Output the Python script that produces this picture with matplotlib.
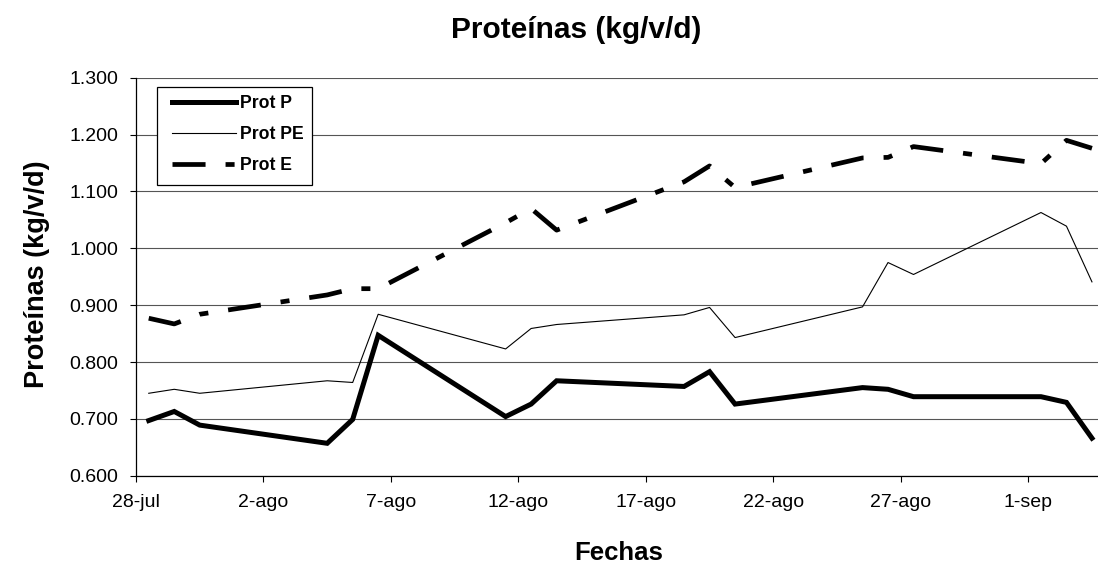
import numpy as np
import pandas as pd
import matplotlib
matplotlib.use("Agg")
import matplotlib.pyplot as plt
from matplotlib.patches import Rectangle

plt.rcParams['font.family'] = ['Liberation Sans', 'DejaVu Sans']
plt.rcParams['lines.scale_dashes'] = False

# fechas de muestreo y proteína (kg/vaca/día) por tratamiento
fechas = ["2005-07-28", "2005-07-29", "2005-07-30", "2005-08-04", "2005-08-05",
          "2005-08-06", "2005-08-11", "2005-08-12", "2005-08-13", "2005-08-18",
          "2005-08-19", "2005-08-20", "2005-08-25", "2005-08-26", "2005-08-27",
          "2005-09-01", "2005-09-02", "2005-09-03"]
prot_p = [0.697, 0.713, 0.689, 0.657, 0.699, 0.847, 0.704, 0.726, 0.767,
          0.757, 0.783, 0.726, 0.755, 0.752, 0.739, 0.739, 0.729, 0.666]
prot_pe = [0.745, 0.752, 0.745, 0.767, 0.764, 0.884, 0.823, 0.859, 0.866,
           0.883, 0.896, 0.843, 0.897, 0.975, 0.954, 1.063, 1.039, 0.941]
prot_e = [0.877, 0.867, 0.884, 0.918, 0.929, 0.929, 1.045, 1.070, 1.032,
          1.117, 1.145, 1.107, 1.159, 1.160, 1.179, 1.149, 1.190, 1.176]
series = ["Prot P", "Prot PE", "Prot E"]
tick_labels = ["28-jul", "2-ago", "7-ago", "12-ago", "17-ago", "22-ago", "27-ago", "1-sep"]

inicio = pd.Timestamp(fechas[0])
dias = (pd.to_datetime(fechas) - inicio).days.values + 0.5  # centro del día

W, H = 1098, 566
fig = plt.figure(figsize=(W / 100, H / 100), dpi=100)
x0, x1, y0, y1 = 136, 1104.7, 77.8, 475.7
ax = fig.add_axes([x0 / W, 1 - y1 / H, (x1 - x0) / W, (y1 - y0) / H])

ax.plot(dias, prot_p, color='black', lw=3.6, solid_joinstyle='miter', label=series[0], zorder=3)
ax.plot(dias, prot_pe, color='black', lw=0.8, label=series[1], zorder=3)
ax.plot(dias, prot_e, color='black', lw=3.4, linestyle=(0, (23.8, 14.4, 6.5, 14.4)),
        dash_capstyle='butt', label=series[2], zorder=3)

ax.set_xlim(0, 38)
ax.set_ylim(0.6, 1.3)
ax.set_xticks(np.arange(len(tick_labels)) * 5)
ax.set_xticklabels(tick_labels)
yt = np.arange(0.6, 1.301, 0.1)
ax.set_yticks(yt)
ax.set_yticklabels([f"{v:.3f}" for v in yt])
ax.tick_params(axis='both', direction='out', length=4, width=0.8, labelsize=14, colors='black')
ax.tick_params(axis='y', pad=9)
ax.tick_params(axis='x', pad=9)
ax.yaxis.grid(True, color='#555555', lw=0.8)
ax.set_axisbelow(True)
for s in ['top', 'right']:
    ax.spines[s].set_visible(False)
for s in ['left', 'bottom']:
    ax.spines[s].set_color('black')
    ax.spines[s].set_linewidth(0.9)

fig.text(576 / W, 1 - 38 / H, "Proteínas (kg/v/d)", ha='center', va='baseline',
         fontsize=21.5, fontweight='bold')
fig.text(37 / W, 1 - 274 / H, "Proteínas (kg/v/d)", ha='center', va='center',
         rotation=90, fontsize=19.5, fontweight='bold')
fig.text(619 / W, 1 - 553 / H, "Fechas", ha='center', va='center',
         fontsize=18.5, fontweight='bold')

# recuadro de la leyenda
caja = Rectangle((156.7 / W, 1 - 185 / H), (312.3 - 156.7) / W, (185 - 87.3) / H,
                 transform=fig.transFigure, facecolor='white', edgecolor='black',
                 lw=0.9, zorder=4, clip_on=False)
ax.add_patch(caja)
leg = ax.legend(loc='upper left', bbox_to_anchor=(171.7 / W, 1 - 95.5 / H),
                bbox_transform=fig.transFigure, frameon=False, borderpad=0,
                borderaxespad=0, handlelength=3.67, handletextpad=0.19,
                labelspacing=0.78, prop={'size': 12.7, 'weight': 'bold'})
leg.set_zorder(5)

fig.savefig("out.png", dpi=100)
